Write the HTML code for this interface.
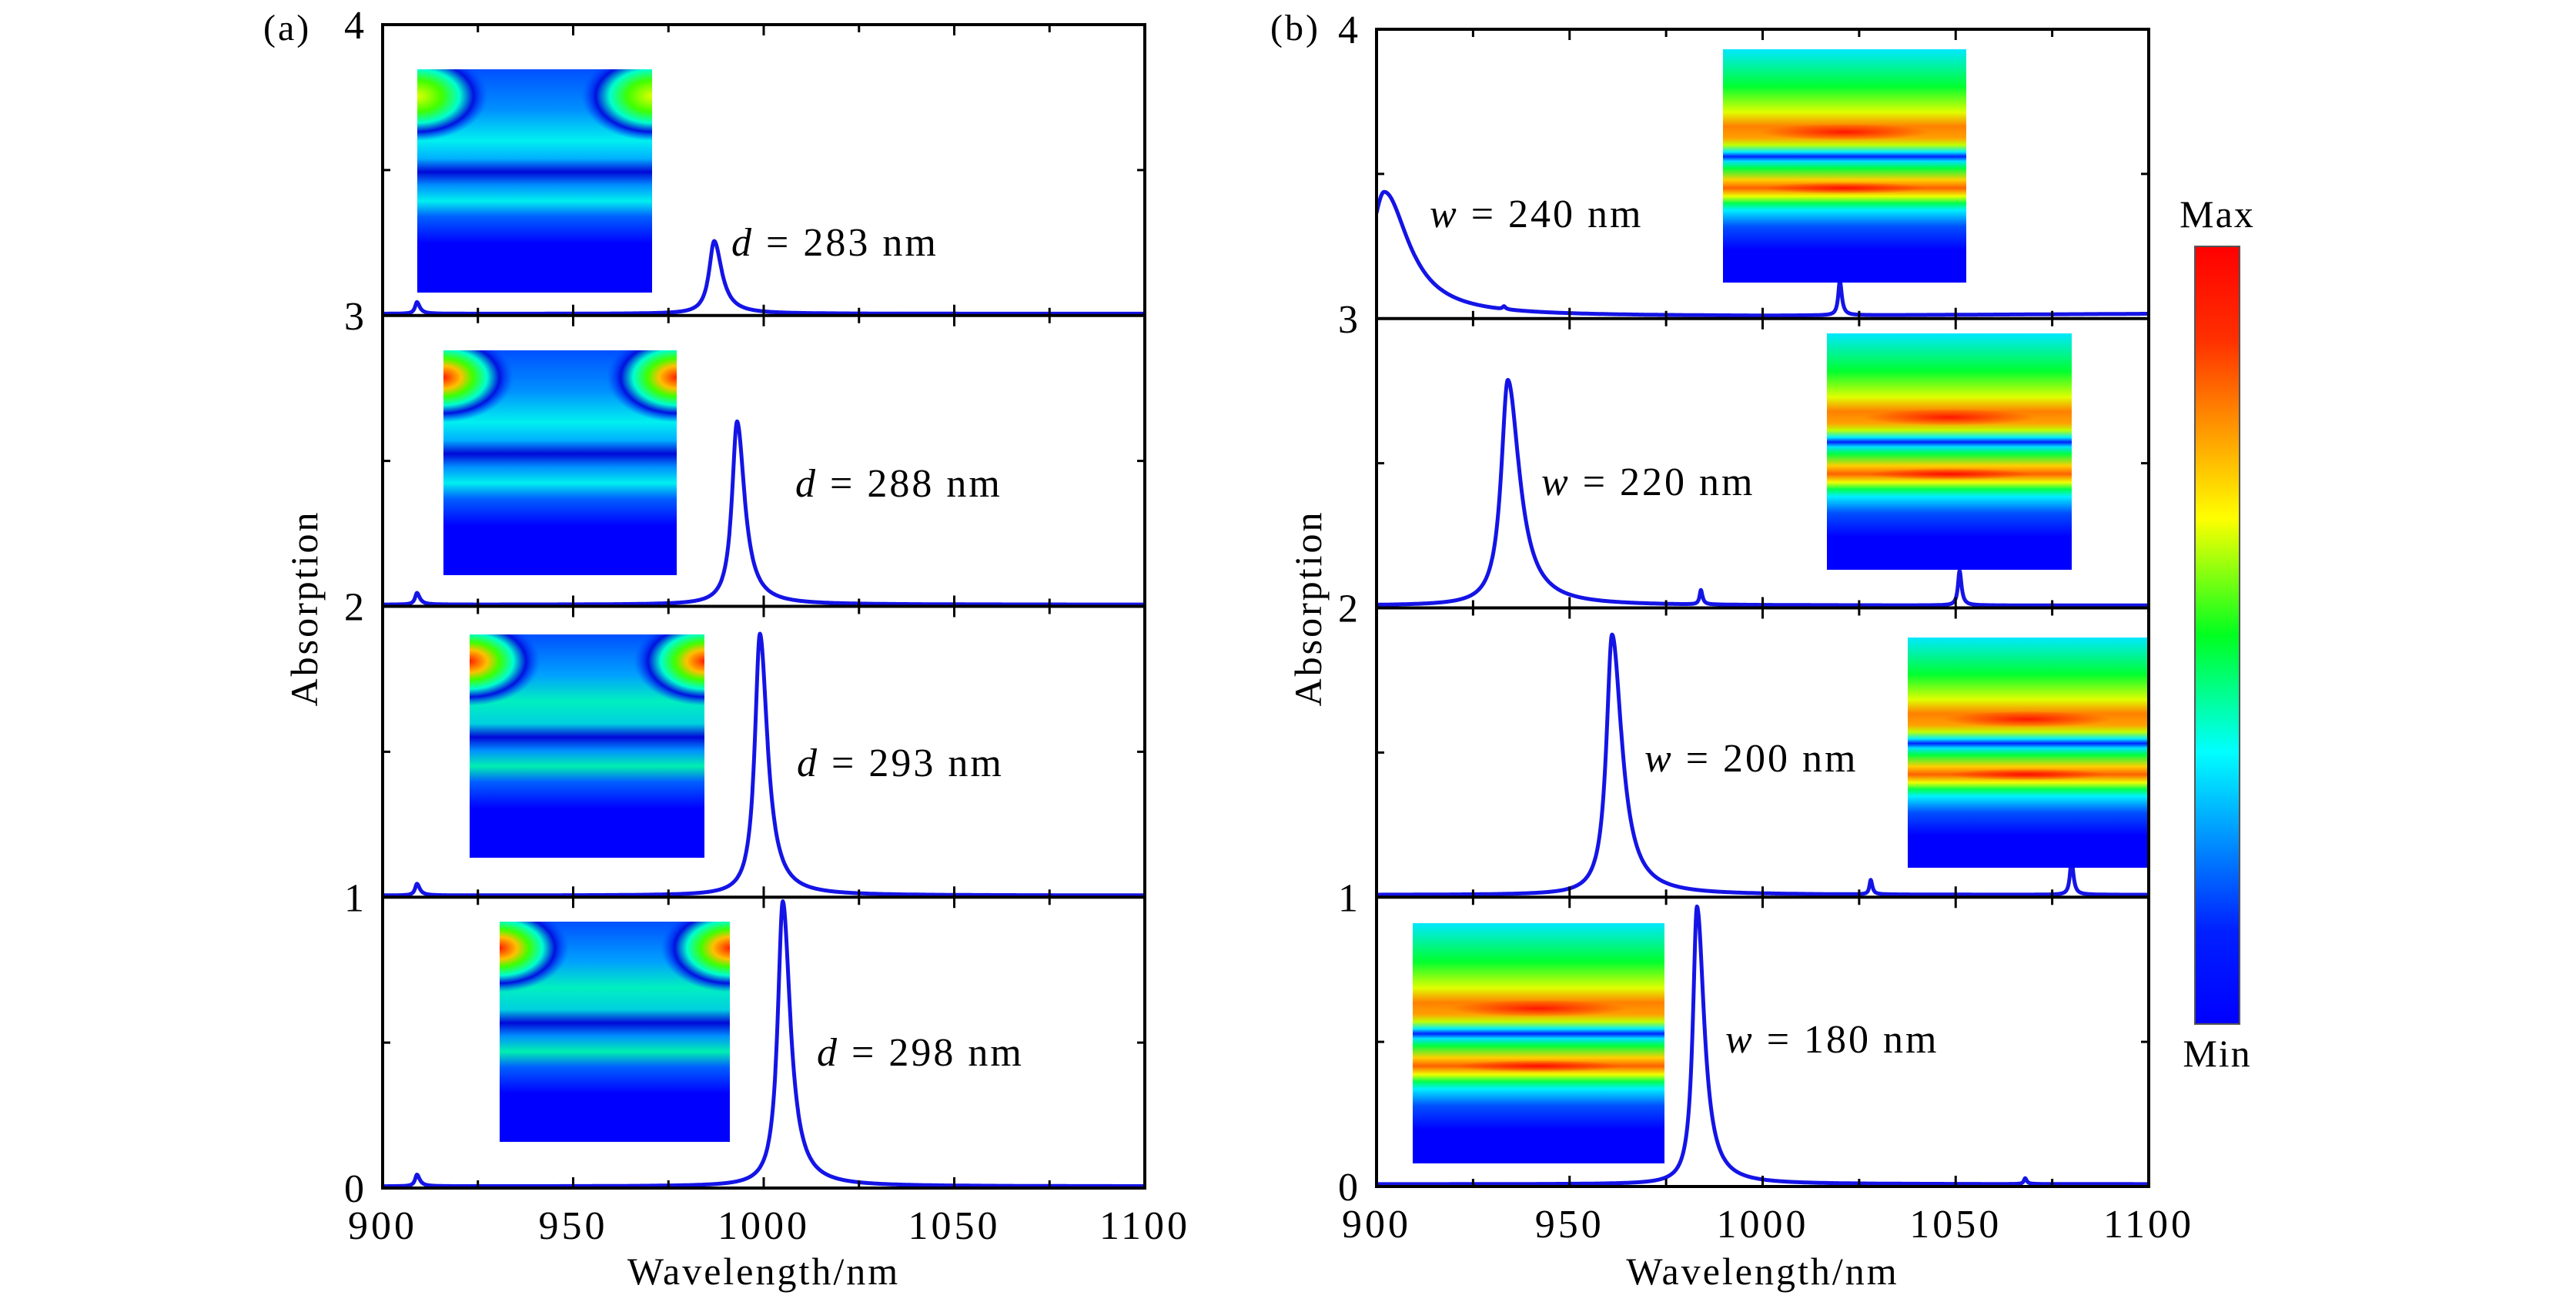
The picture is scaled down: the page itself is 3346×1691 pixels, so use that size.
<!DOCTYPE html>
<html><head><meta charset="utf-8"><style>
html,body{margin:0;padding:0;background:#fff;}
svg{display:block;}
text{font-family:"Liberation Serif","DejaVu Serif",serif;}
</style></head><body>
<svg id="fig" width="3346" height="1691" viewBox="0 0 3346 1691" xmlns="http://www.w3.org/2000/svg" font-family="Liberation Serif, serif">
<defs>
<linearGradient id="jet" x1="0" y1="1" x2="0" y2="0">
<stop offset="0" stop-color="#0000ff"/><stop offset="0.12" stop-color="#0020ff"/><stop offset="0.35" stop-color="#00ffff"/><stop offset="0.5" stop-color="#00ff20"/><stop offset="0.65" stop-color="#ffff00"/><stop offset="0.88" stop-color="#ff3000"/><stop offset="1" stop-color="#ff0000"/>
</linearGradient>
<linearGradient id="lband" x1="0" y1="0" x2="0" y2="1">
<stop offset="0" stop-color="#0050ff"/><stop offset="0.18" stop-color="#0090ff"/><stop offset="0.32" stop-color="#00f0f0"/><stop offset="0.40" stop-color="#00b0ff"/><stop offset="0.46" stop-color="#0008d8"/><stop offset="0.52" stop-color="#0090ff"/><stop offset="0.59" stop-color="#00f0f0"/><stop offset="0.66" stop-color="#0060ff"/><stop offset="0.78" stop-color="#0000ff"/><stop offset="1" stop-color="#0000ff"/>
</linearGradient>
<linearGradient id="lband2" x1="0" y1="0" x2="0" y2="1">
<stop offset="0" stop-color="#0050ff"/><stop offset="0.18" stop-color="#00a0ff"/><stop offset="0.3" stop-color="#00f0c0"/><stop offset="0.40" stop-color="#00d0e0"/><stop offset="0.46" stop-color="#0008d8"/><stop offset="0.52" stop-color="#0090ff"/><stop offset="0.59" stop-color="#00f0b0"/><stop offset="0.66" stop-color="#0060ff"/><stop offset="0.78" stop-color="#0000ff"/><stop offset="1" stop-color="#0000ff"/>
</linearGradient>
<radialGradient id="hotY"><stop offset="0" stop-color="#e0ff00"/><stop offset="0.35" stop-color="#40ff00"/><stop offset="0.6" stop-color="#00ffd0"/><stop offset="0.8" stop-color="#0010e0"/><stop offset="1" stop-color="#0040ff" stop-opacity="0"/></radialGradient>
<radialGradient id="hotR"><stop offset="0" stop-color="#ff2000"/><stop offset="0.25" stop-color="#ffc000"/><stop offset="0.42" stop-color="#40ff00"/><stop offset="0.62" stop-color="#00ffd0"/><stop offset="0.8" stop-color="#0010e0"/><stop offset="1" stop-color="#0040ff" stop-opacity="0"/></radialGradient>
<linearGradient id="rband" x1="0" y1="0" x2="0" y2="1">
<stop offset="0" stop-color="#00e8ff"/><stop offset="0.16" stop-color="#00ff30"/><stop offset="0.27" stop-color="#e0ff00"/><stop offset="0.33" stop-color="#ff8000"/><stop offset="0.38" stop-color="#ffa000"/><stop offset="0.41" stop-color="#c0ff00"/><stop offset="0.44" stop-color="#00f0ff"/><stop offset="0.46" stop-color="#0020ff"/><stop offset="0.48" stop-color="#00e0ff"/><stop offset="0.51" stop-color="#00ff40"/><stop offset="0.56" stop-color="#ffd000"/><stop offset="0.595" stop-color="#ff6000"/><stop offset="0.63" stop-color="#f0ff00"/><stop offset="0.66" stop-color="#00ff50"/><stop offset="0.69" stop-color="#00f0ff"/><stop offset="0.76" stop-color="#0050ff"/><stop offset="0.86" stop-color="#0000ff"/><stop offset="1" stop-color="#0000ff"/>
</linearGradient>
<radialGradient id="redc"><stop offset="0" stop-color="#ff0000" stop-opacity="0.85"/><stop offset="1" stop-color="#ff0000" stop-opacity="0"/></radialGradient>
</defs>
<g id="root"></g>
</svg>
<script>
// Data arrays
const xTicks = [900, 950, 1000, 1050, 1100];
const yTicks = [0, 1, 2, 3, 4];
// Panel (a): peak centers/heights, top subplot first
const aLabels = ["283", "288", "293", "298"];
const aMainCenter = [987, 993, 999, 1005];
const aMainHeight = [0.25, 0.63, 0.90, 0.98];
const aSmallCenter = [909, 909, 909, 909];
const aSmallHeight = [0.04, 0.04, 0.04, 0.04];
// Panel (b)
const bLabels = ["240", "220", "200", "180"];
const bMainCenter = [902, 934, 961, 983];
const bMainHeight = [0.43, 0.78, 0.90, 0.96];
const bMainWidth = [5.5, 2.6, 2.2, 1.6];
const bSide1Center = [933, 984, 1028, 1068];
const bSide1Height = [0.01, 0.05, 0.05, 0.02];
const bSide2Center = [1020, 1051, 1080, 1120];
const bSide2Height = [0.12, 0.12, 0.12, 0];

const NS = "http://www.w3.org/2000/svg";
const root = document.getElementById('root');
const FONT = '"Liberation Serif", "DejaVu Serif", serif';
function mk(tag, attrs, parent) {
  const e = document.createElementNS(NS, tag);
  for (const k in attrs) e.setAttribute(k, attrs[k]);
  if (tag === 'text') { e.style.fontFamily = FONT; }
  (parent || root).appendChild(e);
  return e;
}
function lor(x, c, h, wl, wr) { const w = x < c ? wl : wr; const d = (x - c) / w; return h / (1 + d * d); }

function panel(P) {
  const g = mk('g', {});
  
  
  const X = v => P.x0 + (v - 900) / 200 * (P.x1 - P.x0);
  const Y = v => P.yb - v / 4 * (P.yb - P.yt);
  for (let i = 0; i < 4; i++) {
    const base = 3 - i;
    const cp = mk('clipPath', { id: P.name + 'clip' + i }, g);
    mk('rect', { x: P.x0, y: Y(base + 1), width: P.x1 - P.x0, height: Y(base) - Y(base + 1) }, cp);
    let d = '';
    for (let x = 900; x <= 1100; x += 0.1) {
      const v = base + P.fn(i, x);
      d += (d ? 'L' : 'M') + X(x).toFixed(1) + ',' + Y(v).toFixed(1);
    }
    const p = mk('path', { d: d, fill: 'none', stroke: '#1414e6', 'stroke-width': 5, 'stroke-linejoin': 'round', 'clip-path': 'url(#' + P.name + 'clip' + i + ')' }, g);
    
    
  }
  const fr = mk('rect', { x: P.x0, y: P.yt, width: P.x1 - P.x0, height: P.yb - P.yt, fill: 'none', stroke: '#000', 'stroke-width': 4 }, g);
  
  
  for (let k = 1; k < 4; k++) {
    const l = mk('line', { x1: P.x0, x2: P.x1, y1: Y(k), y2: Y(k), stroke: '#000', 'stroke-width': 4 }, g);
    
    
  }
  for (let k = 0; k <= 4; k++) {
    for (let w = 925; w < 1100; w += 25) {
      const len = (w % 50 === 0) ? 14 : 10;
      if (k < 4) mk('line', { x1: X(w), x2: X(w), y1: Y(k), y2: Y(k) - len, stroke: '#000', 'stroke-width': 3 }, g);
      if (k > 0) mk('line', { x1: X(w), x2: X(w), y1: Y(k), y2: Y(k) + len, stroke: '#000', 'stroke-width': 3 }, g);
    }
  }
  for (let k = 0; k < 4; k++) {
    mk('line', { x1: P.x0, x2: P.x0 + 10, y1: Y(k + 0.5), y2: Y(k + 0.5), stroke: '#000', 'stroke-width': 3 }, g);
    mk('line', { x1: P.x1, x2: P.x1 - 10, y1: Y(k + 0.5), y2: Y(k + 0.5), stroke: '#000', 'stroke-width': 3 }, g);
  }
  xTicks.forEach(v => {
    const t = mk('text', { x: X(v), y: P.yb + 66, 'font-size': 52, 'text-anchor': 'middle', 'letter-spacing': 4 }, g);
    t.textContent = v;
    
    
  });
  yTicks.forEach(v => {
    const t = mk('text', { x: P.x0 - 24, y: Y(v) + 18, 'font-size': 52, 'text-anchor': 'end' }, g);
    t.textContent = v;
    
    
  });
  const xt = mk('text', { x: (P.x0 + P.x1) / 2, y: 1668, 'font-size': 50, 'text-anchor': 'middle', 'letter-spacing': 3 }, g);
  xt.textContent = 'Wavelength/nm';
  
  
  const yt = mk('text', { x: 0, y: 0, 'font-size': 50, 'text-anchor': 'middle', transform: 'translate(' + P.ytx + ',790) rotate(-90)', 'letter-spacing': 3 }, g);
  yt.textContent = 'Absorption';
  
  
  const pl = mk('text', { x: P.plx, y: 52, 'font-size': 48, 'letter-spacing': 3 }, g);
  pl.textContent = P.tag;
  
  
  P.insets.forEach((r, i) => {
    const ig = mk('g', {}, g);
    
    
    P.drawInset(ig, r, i);
  });
  P.labelPos.forEach((p, i) => {
    const t = mk('text', { x: p[0], y: p[1] + 18, 'font-size': 52, 'letter-spacing': 3 }, g);
    
    
    const it = mk('tspan', { 'font-style': 'italic' }, t); it.textContent = P.sym;
    const r = mk('tspan', {}, t); r.textContent = ' = ' + P.labels[i] + ' nm';
  });
}

function leftInset(g, r, i) {
  const [x, y, w, h] = r;
  mk('rect', { x, y, width: w, height: h, fill: i < 2 ? 'url(#lband)' : 'url(#lband2)' }, g);
  const cp = mk('clipPath', { id: 'lic' + i }, g);
  mk('rect', { x, y, width: w, height: h }, cp);
  const grad = i === 0 ? 'url(#hotY)' : 'url(#hotR)';
  mk('ellipse', { cx: x, cy: y + h * 0.12, rx: w * 0.3, ry: h * 0.2, fill: grad, 'clip-path': 'url(#lic' + i + ')' }, g);
  mk('ellipse', { cx: x + w, cy: y + h * 0.12, rx: w * 0.3, ry: h * 0.2, fill: grad, 'clip-path': 'url(#lic' + i + ')' }, g);
}
function rightInset(g, r, i) {
  const [x, y, w, h] = r;
  mk('rect', { x, y, width: w, height: h, fill: 'url(#rband)' }, g);
  mk('ellipse', { cx: x + w / 2, cy: y + h * 0.355, rx: w * 0.35, ry: h * 0.035, fill: 'url(#redc)' }, g);
  mk('ellipse', { cx: x + w / 2, cy: y + h * 0.595, rx: w * 0.33, ry: h * 0.025, fill: 'url(#redc)' }, g);
}

panel({
  name: 'panel-a', tag: '(a)', plx: 342, x0: 497, x1: 1487, yt: 32, yb: 1543, ytx: 412,
  labels: aLabels, sym: 'd',
  fn: (i, x) => 0.006 + lor(x, aMainCenter[i], aMainHeight[i], 1.6, 2.4) + lor(x, aSmallCenter[i], aSmallHeight[i], 0.6, 0.9),
  insets: [[542, 90, 305, 290], [576, 455, 303, 292], [610, 824, 305, 290], [649, 1197, 299, 286]],
  labelPos: [[950, 314], [1033, 627], [1035, 990], [1061, 1366]],
  drawInset: leftInset
});
panel({
  name: 'panel-b', tag: '(b)', plx: 1650, x0: 1788, x1: 2791, yt: 38, yb: 1541, ytx: 1716,
  labels: bLabels, sym: 'w',
  fn: (i, x) => 0.008 + 0.00008 * Math.max(0, x - 1000) * (i === 0 ? 1 : 0) + lor(x, bMainCenter[i], bMainHeight[i], bMainWidth[i] * 0.8, bMainWidth[i] * 1.4) + lor(x, bSide1Center[i], bSide1Height[i], 0.4, 0.5) + lor(x, bSide2Center[i], bSide2Height[i], 0.5, 0.6),
  insets: [[2238, 64, 316, 303], [2373, 433, 318, 307], [2478, 828, 311, 299], [1835, 1199, 327, 312]],
  labelPos: [[1857, 277], [2002, 625], [2136, 984], [2241, 1349]],
  drawInset: rightInset
});

const cb = mk('rect', { x: 2851, y: 320, width: 58, height: 1010, fill: 'url(#jet)', stroke: '#555', 'stroke-width': 2 });


const mx = mk('text', { x: 2880, y: 295, 'font-size': 50, 'text-anchor': 'middle', 'letter-spacing': 2 });
mx.textContent = 'Max';


const mn = mk('text', { x: 2880, y: 1385, 'font-size': 50, 'text-anchor': 'middle', 'letter-spacing': 2 });
mn.textContent = 'Min';


</script>
</body></html>
